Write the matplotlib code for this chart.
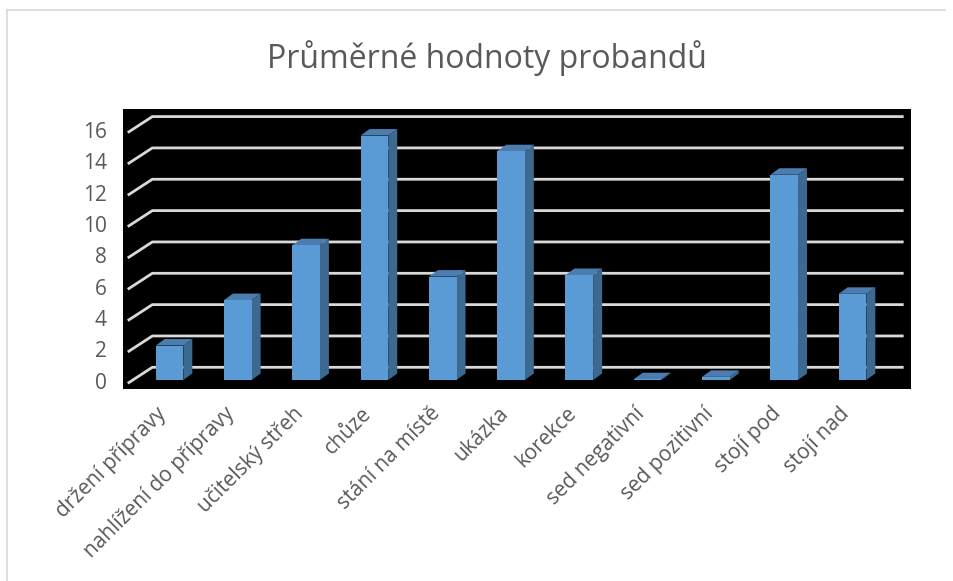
import matplotlib
matplotlib.use("Agg")
import matplotlib.pyplot as plt
from matplotlib.patches import Polygon, Rectangle
from matplotlib.lines import Line2D

plt.rcParams['font.family'] = ['Open Sans', 'DejaVu Sans']

title = "Průměrné hodnoty probandů"
categories = ["držení přípravy", "nahlížení do přípravy", "učitelský střeh", "chůze",
              "stání na místě", "ukázka", "korekce", "sed negativní", "sed pozitivní",
              "stojí pod", "stojí nad"]
values = [2.2, 5.1, 8.6, 15.6, 6.6, 14.6, 6.7, 0.05, 0.2, 13.1, 5.5]
y_ticks = [0, 2, 4, 6, 8, 10, 12, 14, 16]

W, H = 954, 581
fig = plt.figure(figsize=(W / 100, H / 100), dpi=100)

# plot area (black) in pixels
L, R, T, B = 123, 911, 109, 389
ax = fig.add_axes([L / W, (H - B) / H, (R - L) / W, (B - T) / H])
ax.set_facecolor('black')
for s in ax.spines.values():
    s.set_visible(False)
ax.set_xticks([])
ax.set_yticks([])

# data scale: px per unit
px_x = 68.3
px_y = 15.67
x0_px = 169.5   # category 0 center
y0_px = 380.0   # value 0 on bar plane
ax.set_xlim((L - x0_px) / px_x, (R - x0_px) / px_x)
ax.set_ylim((y0_px - B) / px_y, (y0_px - T) / px_y)

def dxu(p):
    return p / px_x

def dyu(p):
    return p / px_y

n = len(categories)
# back wall offsets relative to bar plane
back_dx, back_dy = dxu(17), dyu(12.7)
front_dx, front_dy = back_dx - dxu(24.6), back_dy - dyu(16)
grid_col = '#d9d9d9'
for v in y_ticks:
    xs = [-0.5 + front_dx, -0.5 + back_dx, n - 0.5 + back_dx]
    ys = [v + front_dy, v + back_dy, v + back_dy]
    ax.add_line(Line2D(xs, ys, color=grid_col, lw=2.0, zorder=1,
                       solid_capstyle='butt'))
    ax.text(-0.5 + front_dx - dxu(21), v + front_dy, str(v), ha='right',
            va='center', fontsize=15, color='#595959', clip_on=False)

# bars
bw = 0.405
ddx, ddy = dxu(9), dyu(6.5)
front_col = '#5b9bd5'
side_col = '#3d6890'
top_col = '#4b7db0'
for i, v in enumerate(values):
    xl, xr = i - bw / 2, i + bw / 2
    ax.add_patch(Polygon([(xr, 0), (xr + ddx, ddy), (xr + ddx, v + ddy), (xr, v)],
                         closed=True, facecolor=side_col, edgecolor='none', zorder=3))
    ax.add_patch(Polygon([(xl, v), (xr, v), (xr + ddx, v + ddy), (xl + ddx, v + ddy)],
                         closed=True, facecolor=top_col, edgecolor='none', zorder=3))
    ax.add_patch(Rectangle((xl, 0), bw, v, facecolor=front_col, edgecolor='none',
                           zorder=4))
    ax.text(i - 0.03, -2.2, categories[i], rotation=45, rotation_mode='anchor',
            ha='right', va='baseline', fontsize=15, color='#595959', clip_on=False)

fig.text(486.5 / W, (H - 68) / H, title, ha='center', va='baseline',
         fontsize=23, color='#595959')

# chart area border (top and left visible)
fig.add_artist(Line2D([7 / W, 7 / W], [0, (H - 10) / H], color='#d9d9d9', lw=1.2,
                      transform=fig.transFigure))
fig.add_artist(Line2D([7 / W, 945 / W], [(H - 10) / H, (H - 10) / H], color='#d9d9d9',
                      lw=1.2, transform=fig.transFigure))

fig.savefig('out.png', dpi=100)
